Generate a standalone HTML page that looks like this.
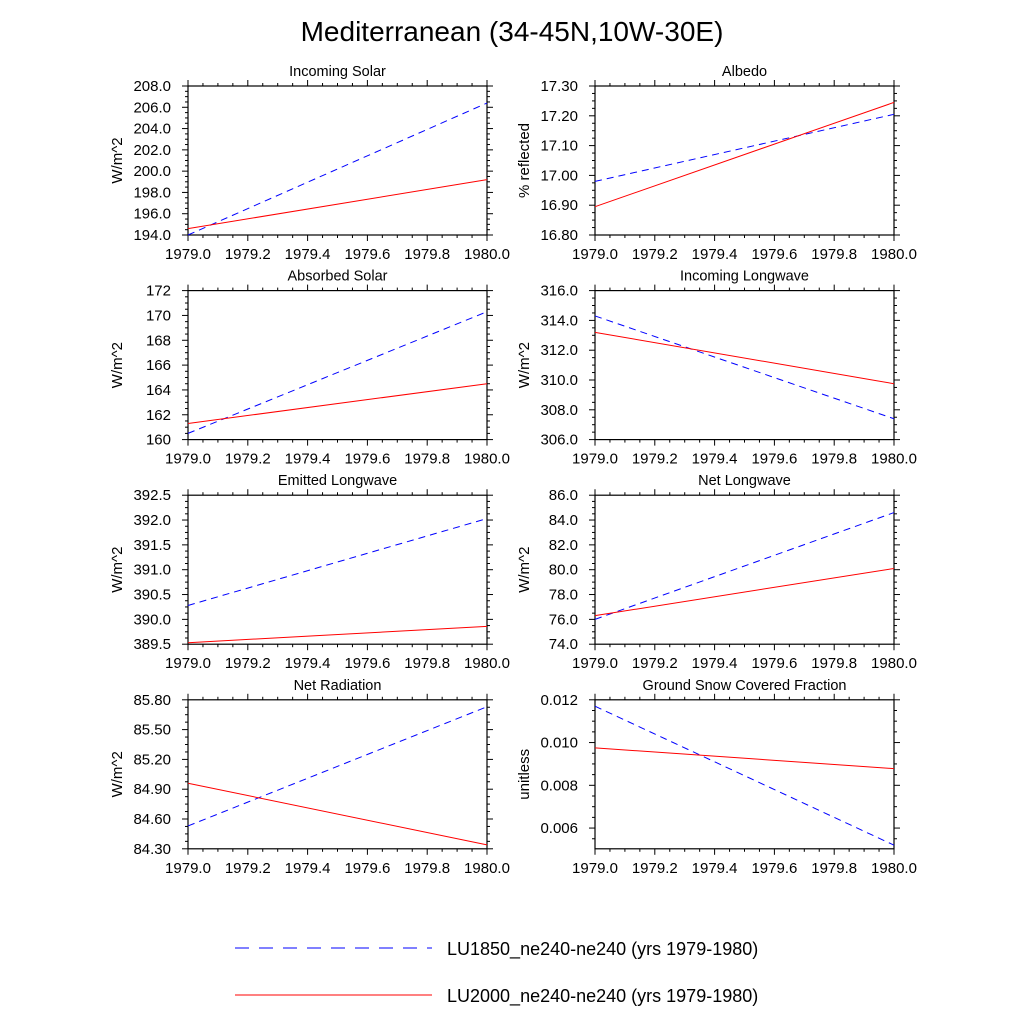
<!DOCTYPE html>
<html><head><meta charset="utf-8"><style>
body{margin:0;background:#fff;}
svg{display:block;font-family:"Liberation Sans",sans-serif;}
</style></head><body>
<svg id="chart" width="1024" height="1024" xmlns="http://www.w3.org/2000/svg">
<text x="512" y="41" font-size="28" text-anchor="middle">Mediterranean (34-45N,10W-30E)</text>
<g id="panels"></g>
<g>
<line x1="235" y1="948" x2="432" y2="948" stroke="#00f" stroke-width="1" stroke-dasharray="14,10"/>
<text x="447" y="955" font-size="18">LU1850_ne240-ne240 (yrs 1979-1980)</text>
<line x1="235" y1="995" x2="432" y2="995" stroke="#f00" stroke-width="1"/>
<text x="447" y="1002" font-size="18">LU2000_ne240-ne240 (yrs 1979-1980)</text>
</g>
</svg>
<script>
const titles=["Incoming Solar","Albedo","Absorbed Solar","Incoming Longwave","Emitted Longwave","Net Longwave","Net Radiation","Ground Snow Covered Fraction"];
const yLabels=["W/m^2","% reflected","W/m^2","W/m^2","W/m^2","W/m^2","W/m^2","unitless"];
const yMin=[194,16.8,160,306,389.5,74,84.3,0.00503];
const yMax=[208,17.3,172,316,392.5,86,85.8,0.012];
const yStep=[2,0.1,2,2,0.5,2,0.3,0.002];
const yStart=[194,16.8,160,306,389.5,74,84.3,0.006];
const yDec=[1,2,0,1,1,1,2,3];
const years=[1979.0,1980.0];
const lu1850=[[194.0,206.4],[16.98,17.205],[160.5,170.3],[314.3,307.4],[390.28,392.03],[76.0,84.6],[84.53,85.73],[0.0117,0.0052]];
const lu2000=[[194.6,199.2],[16.895,17.245],[161.3,164.5],[313.2,309.75],[389.53,389.86],[76.3,80.1],[84.96,84.34],[0.00975,0.00878]];
const xTicks=[1979.0,1979.2,1979.4,1979.6,1979.8,1980.0];

const NS="http://www.w3.org/2000/svg";
const root=document.getElementById('panels');
function mk(tag,attrs,parent){const e=document.createElementNS(NS,tag);for(const k in attrs)e.setAttribute(k,attrs[k]);parent.appendChild(e);return e;}
const W=299,H=149;
for(let i=0;i<8;i++){
  const col=i%2,row=Math.floor(i/2);
  const x0=col?595:188, y0=86+row*204.6;
  const g=mk('g',{},root);
  
  
  const sx=v=>x0+(v-years[0])/(years[1]-years[0])*W;
  const sy=v=>y0+H-(v-yMin[i])/(yMax[i]-yMin[i])*H;
  const t=mk('text',{x:x0+W/2,y:y0-10,'font-size':14.5,'text-anchor':'middle'},g);t.textContent=titles[i];
  
  
  const yl=mk('text',{x:0,y:0,'font-size':15,'text-anchor':'middle',transform:`translate(${x0-66},${y0+H/2}) rotate(-90)`},g);yl.textContent=yLabels[i];
  
  
  xTicks.forEach((v,k)=>{
    const x=sx(v);
    mk('line',{x1:x,y1:y0+H,x2:x,y2:y0+H+6,stroke:'#000'},g);
    mk('line',{x1:x,y1:y0,x2:x,y2:y0-6,stroke:'#000'},g);
    const tx=mk('text',{x:x,y:y0+H+24,'font-size':15,'text-anchor':'middle'},g);tx.textContent=v.toFixed(1);
    
    
    if(k<xTicks.length-1){for(let m=1;m<4;m++){const xm=sx(v+m*0.05);mk('line',{x1:xm,y1:y0+H,x2:xm,y2:y0+H+3,stroke:'#000'},g);mk('line',{x1:xm,y1:y0,x2:xm,y2:y0-3,stroke:'#000'},g);}}
  });
  const st=yStep[i],mn=st/4;
  for(let v=yStart[i]-st;v<=yMax[i]+1e-9;v+=mn){
    if(v<yMin[i]-1e-9)continue;
    const y=sy(v);
    const isMaj=Math.abs(((v-yStart[i])/st)-Math.round((v-yStart[i])/st))<1e-6;
    const len=isMaj?6:3;
    mk('line',{x1:x0,y1:y,x2:x0-len,y2:y,stroke:'#000'},g);
    mk('line',{x1:x0+W,y1:y,x2:x0+W+len,y2:y,stroke:'#000'},g);
    if(isMaj){const ty=mk('text',{x:x0-17,y:y+5,'font-size':15,'text-anchor':'end'},g);ty.textContent=v.toFixed(yDec[i]);
      
      }
  }
  const box=mk('rect',{x:x0,y:y0,width:W,height:H,fill:'none',stroke:'#000','stroke-width':1.2},g);
  
  
  const l1=mk('polyline',{points:years.map((yr,k)=>sx(yr)+','+sy(lu1850[i][k])).join(' '),fill:'none',stroke:'#00f','stroke-width':1,'stroke-dasharray':'7,5'},g);
  
  
  const l2=mk('polyline',{points:years.map((yr,k)=>sx(yr)+','+sy(lu2000[i][k])).join(' '),fill:'none',stroke:'#f00','stroke-width':1},g);
  
  
}
</script>
</body></html>
